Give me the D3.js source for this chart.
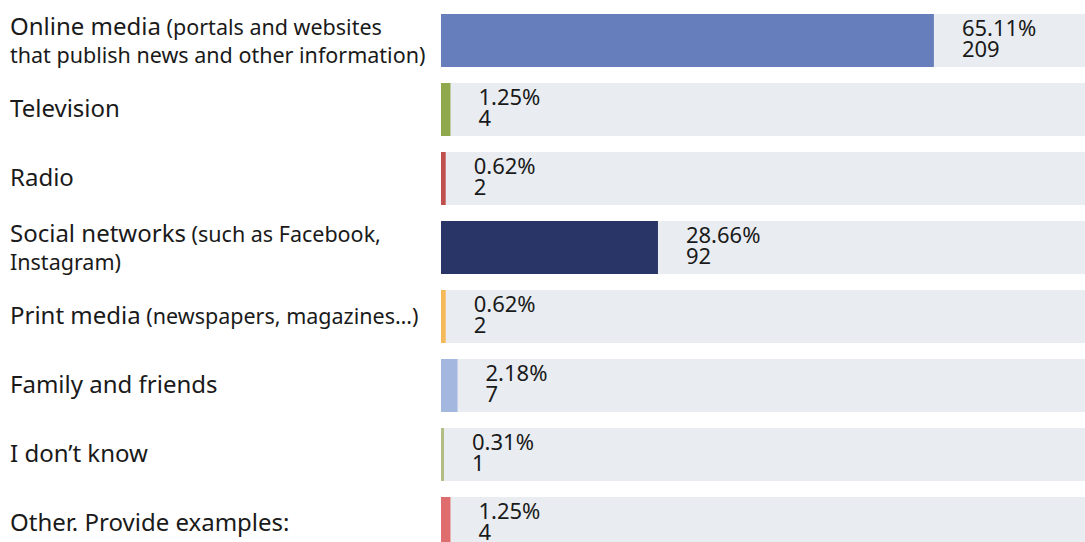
<!DOCTYPE html>
<html>
<head>
<meta charset="utf-8">
<script src="https://cdn.jsdelivr.net/npm/d3@7"></script>
<style>
  body { margin: 0; background: #fff; }
  svg { display: block; font-family: "Noto Sans", sans-serif; }
</style>
</head>
<body>
<div id="chart"></div>
<script>
  // survey answers, in display order
  const categories = ['Online media', 'Television', 'Radio', 'Social networks',
    'Print media', 'Family and friends', 'I don\u2019t know', 'Other. Provide examples:'];
  // smaller note after the label, '|' marks the line break
  const notes = ['(portals and websites|that publish news and other information)', '', '',
    '(such as Facebook,|Instagram)', '(newspapers, magazines\u2026)', '', '', ''];
  const percents = [65.11, 1.25, 0.62, 28.66, 0.62, 2.18, 0.31, 1.25];
  const counts = [209, 4, 2, 92, 2, 7, 1, 4];
  const colors = ['#667ebb', '#8fa84c', '#c0504d', '#283566', '#f5b85b', '#a4b7de', '#b2be85', '#e06d6d'];

  const width = 1085;
  const height = 542;

  const svg = d3.select('#chart')
    .append('svg')
    .attr('width', width)
    .attr('height', height);

  const y = d3.scaleBand()
    .domain(categories)
    .range([14, 550])
    .paddingInner(0.232);

  const x = d3.scaleLinear()
    .domain([0, 100])
    .range([441, 1198]);

  const rows = svg.selectAll('g.row')
    .data(categories)
    .enter()
    .append('g')
    .attr('class', 'row')
    .attr('transform', (d) => `translate(0,${y(d)})`);

  const bh = y.bandwidth();
  const barEnd = (i) => x(0) + Math.max(3, x(percents[i]) - x(0));

  // grey track behind every bar
  rows.append('rect')
    .attr('x', x(0))
    .attr('y', 0)
    .attr('width', x(100) - x(0))
    .attr('height', bh)
    .attr('fill', '#e9edf1');

  rows.append('rect')
    .attr('x', x(0))
    .attr('y', 0)
    .attr('width', (d, i) => barEnd(i) - x(0))
    .attr('height', bh)
    .attr('fill', (d, i) => colors[i]);

  // value labels: percent on top, count below
  rows.append('text')
    .attr('x', (d, i) => barEnd(i) + 28)
    .attr('y', bh / 2 - 4.5)
    .attr('font-size', 22)
    .attr('fill', '#1a1a1a')
    .text((d, i) => percents[i].toFixed(2) + '%');
  rows.append('text')
    .attr('x', (d, i) => barEnd(i) + 28)
    .attr('y', bh / 2 + 17)
    .attr('font-size', 22)
    .attr('fill', '#1a1a1a')
    .text((d, i) => counts[i]);

  // category labels
  rows.each(function (d, i) {
    const g = d3.select(this);
    const parts = notes[i] ? notes[i].split('|') : [];
    const twoLines = parts.length > 1;
    const t = g.append('text')
      .attr('x', 10)
      .attr('y', twoLines ? bh / 2 - 6 : bh / 2 + 8)
      .attr('fill', '#1a1a1a');
    t.append('tspan')
      .attr('font-size', 24)
      .text(d);
    if (parts.length) {
      t.append('tspan')
        .attr('font-size', 21.5)
        .text(' ' + parts[0]);
    }
    if (twoLines) {
      g.append('text')
        .attr('x', 10)
        .attr('y', bh / 2 + 22.5)
        .attr('font-size', 21.5)
        .attr('fill', '#1a1a1a')
        .text(parts[1]);
    }
  });
</script>
</body>
</html>
